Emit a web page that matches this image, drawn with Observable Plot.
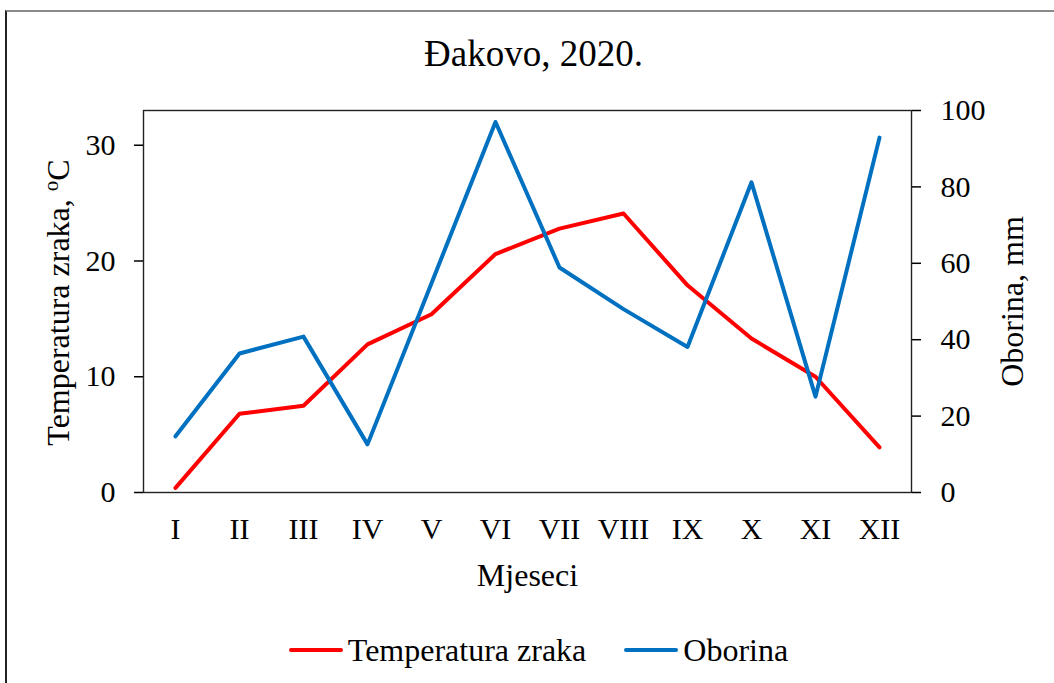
<!DOCTYPE html>
<html><head><meta charset="utf-8">
<script src="https://cdn.jsdelivr.net/npm/d3@7"></script>
<script src="https://cdn.jsdelivr.net/npm/@observablehq/plot@0.6"></script>
<style>
body{margin:0;background:#fff;font-family:"Liberation Serif","Times New Roman",serif;}
#wrap{position:relative;width:1054px;height:683px;overflow:hidden;}
#border{position:absolute;left:5px;top:10px;width:1200px;height:800px;border-top:2px solid #8a8a8a;border-left:2px solid #222;box-sizing:border-box;pointer-events:none;}
#chart{position:relative;}
#legend{position:relative;height:60px;display:flex;align-items:center;justify-content:center;padding-left:23px;font-size:32px;line-height:32px;color:#000;}
.item{display:flex;align-items:center;}
.item+.item{margin-left:38px;}
.sw{width:54px;height:4px;border-radius:2px;margin-right:5px;}
</style></head>
<body><div id="wrap"><div id="border"></div><div id="chart"></div><div id="legend"></div></div>
<script>
const months = ["I","II","III","IV","V","VI","VII","VIII","IX","X","XI","XII"];
const temperatura = [0.4, 6.8, 7.5, 12.8, 15.4, 20.6, 22.8, 24.1, 17.9, 13.3, 10.0, 3.9];
const oborina = [14.7, 36.4, 40.8, 12.6, 54.8, 97.0, 58.9, 48.0, 38.1, 81.2, 25.1, 92.9];
const tempTicks = [0, 10, 20, 30];
const oborinaTicks = [0, 20, 40, 60, 80, 100];
const tempMax = 33, oborinaMax = 100;
const seriesNames = ["Temperatura zraka", "Oborina"];
const seriesColors = ["#FF0000", "#0070C0"];

const k = tempMax / oborinaMax;
const data = months.map((m, i) => ({mjesec: m, temp: temperatura[i], oborina: oborina[i]}));

const plot = Plot.plot({
  width: 1054, height: 620,
  marginTop: 110, marginBottom: 128, marginLeft: 143, marginRight: 143,
  style: {fontFamily: '"Liberation Serif","Times New Roman",serif', fontSize: "30px", color: "#000", background: "transparent", overflow: "visible"},
  x: {type: "point", domain: months, padding: 0.5},
  y: {domain: [0, tempMax]},
  marks: [
    Plot.frame({stroke: "#222", strokeWidth: 1.4}),
    Plot.axisX({tickSize: 0, tickPadding: 25, label: null, fontSize: 30}),
    Plot.axisY(tempTicks, {anchor: "left", tickSize: 9, tickPadding: 19, strokeWidth: 1.5, label: null, fontSize: 30}),
    Plot.axisY(oborinaTicks.map(v => v * k), {anchor: "right", tickSize: 9, tickPadding: 20, strokeWidth: 1.5, tickFormat: v => String(Math.round(v / k)), label: null, fontSize: 30}),
    Plot.line(data, {x: "mjesec", y: "temp", stroke: seriesColors[0], strokeWidth: 4, strokeLinejoin: "round", strokeLinecap: "round"}),
    Plot.line(data, {x: "mjesec", y: d => d.oborina * k, stroke: seriesColors[1], strokeWidth: 4, strokeLinejoin: "round", strokeLinecap: "round"}),
    Plot.text(["Đakovo, 2020."], {frameAnchor: "top", lineAnchor: "middle", textAnchor: "middle", dy: -56, dx: 6, fontSize: 37}),
    Plot.text(["Mjeseci"], {frameAnchor: "bottom", lineAnchor: "middle", textAnchor: "middle", dy: 83, fontSize: 32}),
    Plot.text(["Temperatura zraka, oC"], {frameAnchor: "left", lineAnchor: "middle", textAnchor: "middle", dx: -85, dy: 1, rotate: -90, fontSize: 32}),
    Plot.text(["Oborina, mm"], {frameAnchor: "right", lineAnchor: "middle", textAnchor: "middle", dx: 101, rotate: -90, fontSize: 32})
  ]
});

d3.select(plot).selectAll("text").filter(function() { return this.textContent === "Temperatura zraka, oC"; })
  .each(function() {
    const t = d3.select(this);
    t.text(null);
    t.append("tspan").text("Temperatura zraka, ");
    t.append("tspan").attr("dy", -11).attr("font-size", "21px").text("o");
    t.append("tspan").attr("dy", 11).text("C");
  });

document.getElementById("chart").appendChild(plot);

const legend = d3.select("#legend");
seriesNames.forEach((name, i) => {
  const item = legend.append("div").attr("class", "item");
  item.append("span").attr("class", "sw").style("background", seriesColors[i]);
  item.append("span").text(name);
});
</script>
</body></html>
